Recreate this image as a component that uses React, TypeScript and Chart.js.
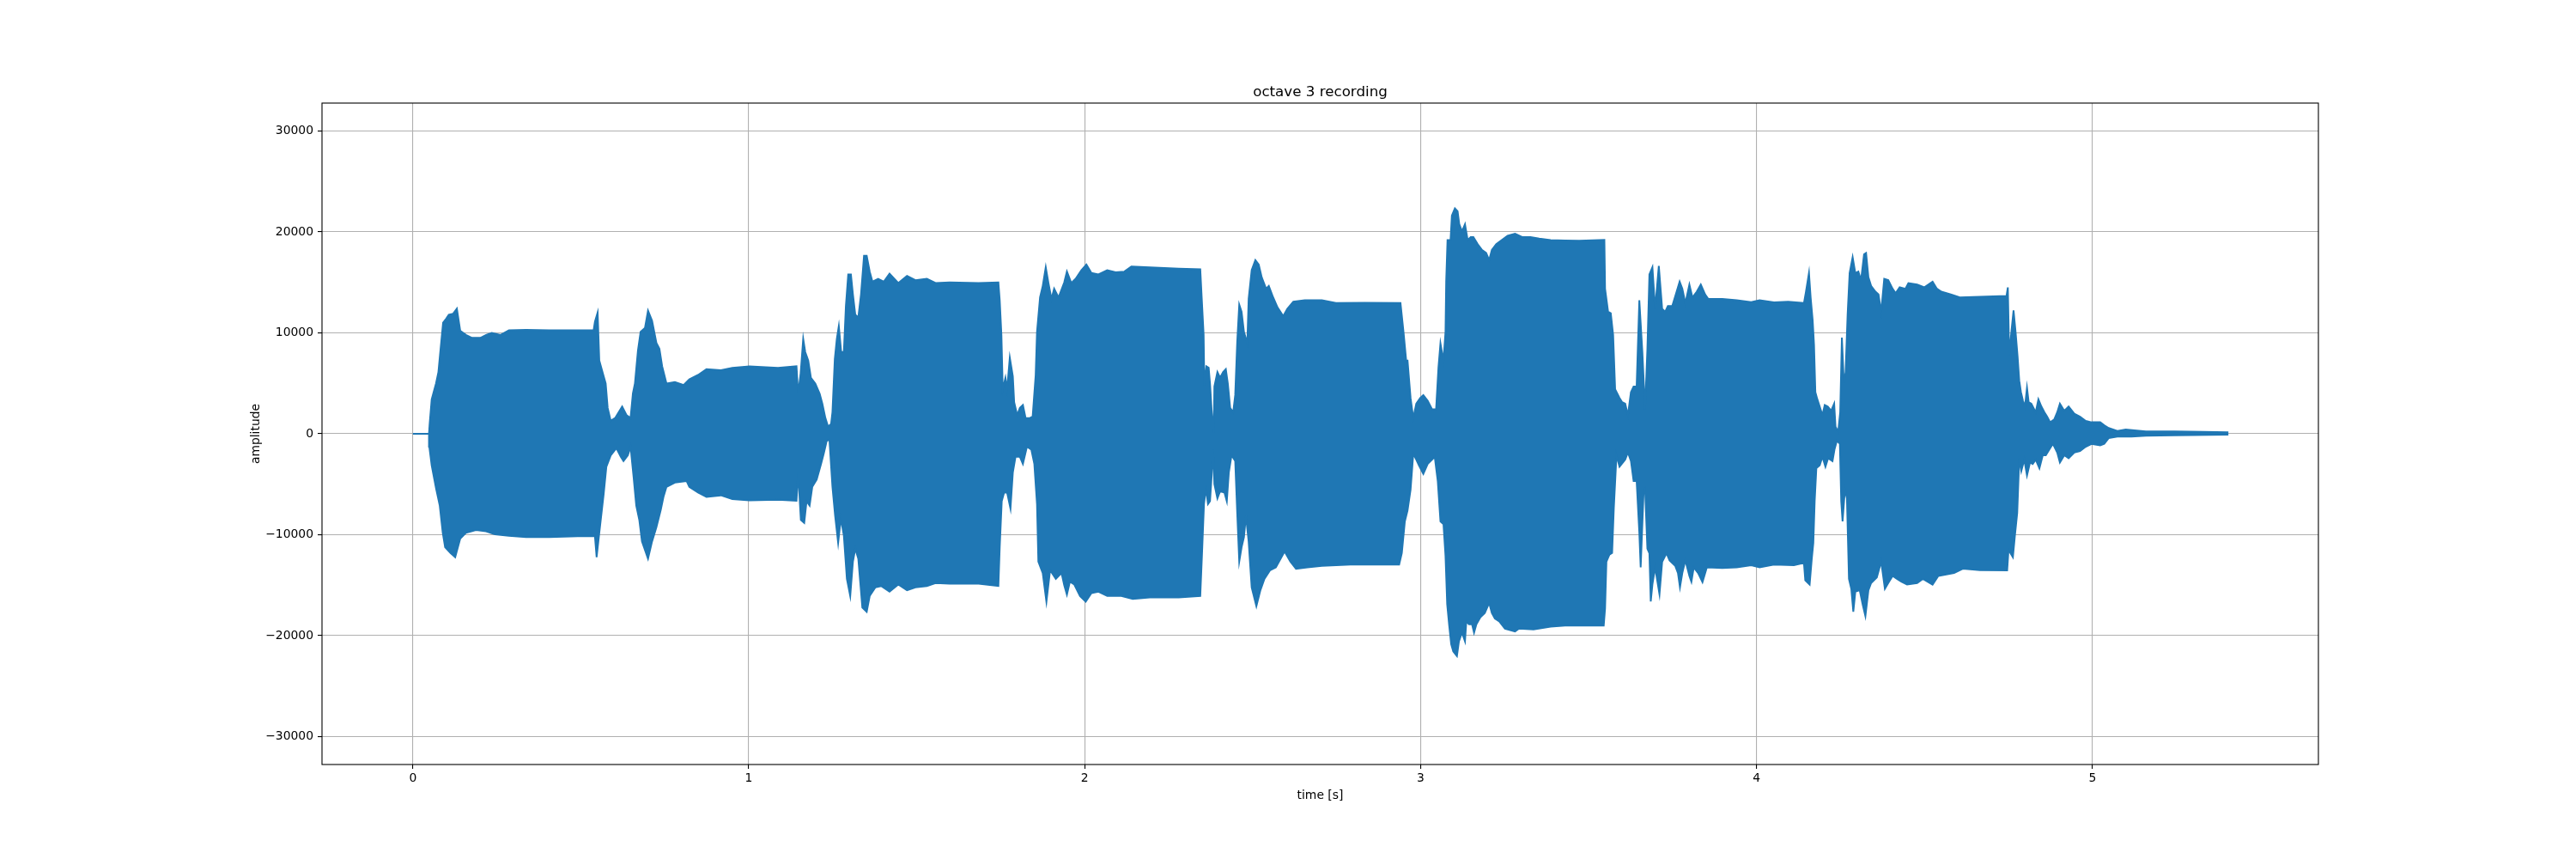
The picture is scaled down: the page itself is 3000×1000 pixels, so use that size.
import React, { useEffect, useRef } from 'react';
import { Chart, registerables } from 'chart.js';

Chart.register(...registerables);

// ---- text ----
const chartTitle = 'octave 3 recording';
const xAxisLabel = 'time [s]';
const yAxisLabel = 'amplitude';

// ---- axes ----
const xTicks = [0, 1, 2, 3, 4, 5];
const yTicks = [-30000, -20000, -10000, 0, 10000, 20000, 30000];
const xMin = -0.2705;
const xMax = 5.6725;
const yMin = -32768;
const yMax = 32767;

// ---- waveform envelope: [time s, amplitude] ----
const upperEnvelope: [number, number][] = [
  [0, 0], [0.048, 0], [0.050, 1000], [0.056, 3400], [0.069, 5000], [0.076, 6100], [0.082, 8250], [0.090, 11000],
  [0.099, 11400], [0.107, 11800], [0.120, 11900], [0.131, 12400], [0.141, 10200], [0.158, 9800], [0.176, 9500],
  [0.201, 9500], [0.218, 9800], [0.235, 10000], [0.261, 9800], [0.286, 10250], [0.337, 10300], [0.406, 10250],
  [0.491, 10250], [0.538, 10250], [0.542, 11100], [0.550, 12000], [0.555, 7250], [0.568, 5700], [0.574, 4980],
  [0.580, 2560], [0.589, 1280], [0.602, 1560], [0.623, 2700], [0.636, 1850], [0.648, 1560], [0.655, 4000],
  [0.661, 4980], [0.670, 8250], [0.678, 10100], [0.691, 10500], [0.700, 12200], [0.712, 11200], [0.725, 9000],
  [0.734, 8430], [0.742, 6700], [0.755, 4980], [0.780, 5120], [0.806, 4840], [0.823, 5400], [0.849, 5830],
  [0.874, 6400], [0.917, 6300], [0.951, 6540], [1.002, 6690], [1.087, 6540], [1.142, 6690], [1.147, 4000],
  [1.154, 5830], [1.162, 9400], [1.168, 8110], [1.177, 7250], [1.185, 5550], [1.198, 4980], [1.211, 3980],
  [1.219, 2990], [1.228, 1560], [1.236, 710], [1.245, 990], [1.249, 2130], [1.256, 7400], [1.262, 9390],
  [1.268, 10670], [1.275, 8110], [1.283, 8110], [1.289, 12660], [1.296, 15790], [1.304, 15790], [1.310, 13800],
  [1.317, 11800], [1.326, 11520], [1.334, 13800], [1.343, 17640], [1.351, 17640], [1.360, 16070], [1.368, 15080],
  [1.385, 15360], [1.402, 15080], [1.419, 15860], [1.445, 14940], [1.471, 15650], [1.496, 15220], [1.530, 15360],
  [1.556, 14940], [1.598, 15000], [1.684, 14940], [1.743, 15000], [1.747, 13230], [1.752, 9810], [1.756, 4410],
  [1.764, 5550], [1.769, 4410], [1.777, 7540], [1.786, 5690], [1.790, 3130], [1.799, 1850], [1.807, 2560],
  [1.816, 2850], [1.824, 1560], [1.837, 1560], [1.845, 1710], [1.854, 5830], [1.858, 10100], [1.867, 13510],
  [1.875, 14650], [1.884, 16500], [1.892, 14940], [1.901, 13370], [1.909, 14370], [1.922, 13510], [1.939, 15000],
  [1.947, 16070], [1.960, 14940], [1.973, 15360], [1.990, 16210], [2.005, 16780], [2.020, 15930], [2.041, 15790],
  [2.067, 16210], [2.092, 16010], [2.118, 16070], [2.139, 16570], [2.194, 16500], [2.280, 16360], [2.344, 16300],
  [2.348, 13650], [2.354, 9810], [2.356, 4840], [2.362, 6690], [2.369, 6540], [2.373, 4980], [2.378, 2280],
  [2.384, 100], [2.386, 4690], [2.395, 6120], [2.403, 5550], [2.412, 6120], [2.420, 6400], [2.426, 4980],
  [2.433, 2560], [2.442, 2130], [2.448, 3840], [2.454, 9100], [2.460, 12800], [2.467, 12090], [2.474, 10100],
  [2.484, 8960], [2.488, 13370], [2.497, 16210], [2.508, 17210], [2.518, 16780], [2.527, 15500], [2.540, 14370],
  [2.548, 14650], [2.561, 13510], [2.574, 12520], [2.591, 11660], [2.603, 12380], [2.621, 13090], [2.655, 13230],
  [2.706, 13230], [2.748, 12950], [2.834, 12980], [2.940, 12950], [2.949, 10100], [2.957, 7250], [2.961, 7250],
  [2.970, 3560], [2.978, 1560], [2.987, 2990], [2.999, 3560], [3.008, 3840], [3.021, 3270], [3.034, 2420],
  [3.046, 2420], [3.053, 6540], [3.059, 8960], [3.068, 7250], [3.074, 10100], [3.076, 15080], [3.080, 19200],
  [3.089, 19200], [3.093, 21620], [3.102, 22330], [3.110, 22050], [3.115, 20770], [3.123, 20060], [3.132, 20770],
  [3.140, 19200], [3.149, 19490], [3.157, 19490], [3.170, 18780], [3.183, 18210], [3.195, 17920], [3.204, 17210],
  [3.212, 18210], [3.225, 18780], [3.242, 19200], [3.259, 19630], [3.281, 19830], [3.302, 19490], [3.327, 19490],
  [3.353, 19350], [3.387, 19200], [3.430, 19150], [3.472, 19120], [3.547, 19200], [3.549, 14370], [3.558, 12090],
  [3.566, 11950], [3.573, 9810], [3.579, 4410], [3.592, 3560], [3.600, 3130], [3.609, 2990], [3.617, 1850],
  [3.626, 4130], [3.634, 4690], [3.643, 4690], [3.651, 13230], [3.660, 8110], [3.668, 2420], [3.675, 8390],
  [3.681, 15790], [3.690, 16500], [3.698, 12380], [3.709, 16640], [3.719, 12380], [3.728, 12090], [3.736, 12660],
  [3.749, 12660], [3.762, 14080], [3.771, 15080], [3.779, 14370], [3.788, 12950], [3.800, 14790], [3.809, 13510],
  [3.822, 14080], [3.834, 14790], [3.847, 13800], [3.856, 13370], [3.898, 13370], [3.941, 13230], [3.984, 13050],
  [4.009, 13230], [4.052, 13030], [4.094, 13090], [4.141, 12950], [4.147, 14080], [4.156, 15930], [4.161, 13510],
  [4.167, 11240], [4.171, 8820], [4.175, 4130], [4.181, 3410], [4.188, 2700], [4.196, 1850], [4.203, 2850],
  [4.212, 2700], [4.222, 2280], [4.231, 2990], [4.235, 710], [4.243, 200], [4.249, 2130], [4.254, 9530],
  [4.260, 4980], [4.265, 6120], [4.271, 11810], [4.277, 15930], [4.286, 17500], [4.294, 15930], [4.303, 16070],
  [4.311, 15220], [4.320, 17780], [4.326, 17920], [4.333, 15500], [4.341, 14650], [4.354, 14080], [4.363, 13800],
  [4.371, 12090], [4.380, 15360], [4.392, 15220], [4.405, 14370], [4.414, 13940], [4.426, 14510], [4.443, 14370],
  [4.452, 14930], [4.478, 14790], [4.499, 14510], [4.524, 15080], [4.537, 14370], [4.550, 14080], [4.580, 13800],
  [4.605, 13510], [4.665, 13580], [4.744, 13650], [4.748, 14500], [4.752, 7820], [4.759, 10240], [4.765, 12230],
  [4.771, 10100], [4.777, 7680], [4.782, 5260], [4.787, 4130], [4.793, 3270], [4.799, 2700], [4.805, 4550],
  [4.810, 3130], [4.818, 2990], [4.831, 2130], [4.839, 3410], [4.848, 2700], [4.857, 2130], [4.865, 1700],
  [4.874, 1140], [4.886, 1420], [4.895, 2130], [4.903, 2990], [4.916, 2280], [4.929, 2700], [4.946, 1990],
  [4.963, 1700], [4.980, 1280], [4.997, 1140], [5.023, 1140], [5.035, 850], [5.048, 570], [5.074, 280],
  [5.099, 430], [5.125, 340], [5.159, 230], [5.244, 230], [5.330, 200], [5.402, 140],
];

const lowerEnvelope: [number, number][] = [
  [0, 0], [0.048, 0], [0.049, -1280], [0.056, -3130], [0.069, -5410], [0.080, -7110], [0.089, -9810], [0.096, -11240],
  [0.112, -11810], [0.126, -12230], [0.141, -10380], [0.158, -9810], [0.188, -9530], [0.218, -9670], [0.244, -9960],
  [0.286, -10100], [0.337, -10240], [0.406, -10240], [0.491, -10160], [0.542, -10160], [0.547, -12230], [0.555, -9810],
  [0.568, -5970], [0.576, -3270], [0.589, -2130], [0.606, -1420], [0.619, -2280], [0.627, -2700], [0.640, -2130],
  [0.648, -1280], [0.657, -4270], [0.665, -7110], [0.674, -8530], [0.682, -10670], [0.700, -12380], [0.712, -10670],
  [0.725, -9250], [0.738, -7540], [0.746, -6260], [0.755, -5260], [0.780, -4840], [0.815, -4690], [0.823, -5260],
  [0.849, -5830], [0.874, -6260], [0.917, -6100], [0.951, -6460], [1.002, -6600], [1.087, -6540], [1.142, -6630],
  [1.147, -3840], [1.155, -8530], [1.165, -8820], [1.172, -6680], [1.181, -7110], [1.189, -5260], [1.202, -4550],
  [1.215, -2990], [1.223, -1990], [1.232, -710], [1.240, -570], [1.249, -5260], [1.257, -8110], [1.266, -10810],
  [1.274, -8390], [1.283, -10100], [1.292, -14370], [1.302, -16070], [1.310, -12660], [1.317, -11380], [1.326, -12380],
  [1.338, -17210], [1.351, -17640], [1.360, -16070], [1.377, -15220], [1.394, -15080], [1.419, -15650], [1.445, -14940],
  [1.471, -15500], [1.496, -15220], [1.530, -15080], [1.556, -14790], [1.598, -14860], [1.684, -14860], [1.743, -15080],
  [1.747, -11240], [1.753, -6680], [1.760, -5830], [1.769, -5830], [1.779, -7400], [1.786, -3840], [1.794, -2280],
  [1.807, -2280], [1.816, -2990], [1.828, -1280], [1.841, -1560], [1.850, -2990], [1.858, -6970], [1.862, -12660],
  [1.875, -13800], [1.886, -16640], [1.897, -13510], [1.914, -14370], [1.931, -13800], [1.939, -15000], [1.947, -15930],
  [1.956, -14650], [1.969, -14940], [1.986, -16070], [2.003, -16640], [2.020, -15790], [2.041, -15650], [2.067, -16070],
  [2.109, -16070], [2.143, -16360], [2.194, -16210], [2.280, -16210], [2.344, -16070], [2.350, -11240], [2.355, -6970],
  [2.361, -5410], [2.367, -6970], [2.373, -6680], [2.378, -4130], [2.382, -1560], [2.386, -4980], [2.395, -6400],
  [2.403, -5690], [2.416, -5830], [2.423, -6680], [2.429, -3840], [2.437, -2130], [2.448, -2700], [2.454, -7820],
  [2.460, -12660], [2.467, -11240], [2.474, -10240], [2.480, -8110], [2.488, -10670], [2.497, -15220], [2.511, -17070],
  [2.523, -15500], [2.535, -14370], [2.552, -13510], [2.569, -13230], [2.595, -11660], [2.612, -12660], [2.629, -13370],
  [2.663, -13230], [2.706, -13090], [2.791, -12950], [2.876, -12950], [2.936, -12950], [2.944, -11810], [2.953, -8680],
  [2.961, -7600], [2.970, -5550], [2.978, -1990], [2.987, -2560], [2.995, -3130], [3.008, -3980], [3.021, -2990],
  [3.034, -2560], [3.042, -2280], [3.051, -4690], [3.059, -8680], [3.068, -8960], [3.074, -12100], [3.079, -16900],
  [3.085, -19000], [3.091, -20850], [3.097, -21550], [3.108, -22030], [3.114, -20560], [3.123, -19700], [3.132, -20560],
  [3.136, -18600], [3.144, -18870], [3.153, -18870], [3.159, -19700], [3.166, -18870], [3.178, -18170], [3.191, -17750],
  [3.204, -16760], [3.212, -17750], [3.221, -18310], [3.234, -18590], [3.251, -19300], [3.281, -19580], [3.293, -19300],
  [3.336, -19380], [3.387, -19100], [3.430, -19010], [3.545, -19010], [3.549, -17320], [3.553, -12680], [3.562, -11970],
  [3.570, -11800], [3.575, -7400], [3.583, -2130], [3.592, -3270], [3.609, -2560], [3.617, -1850], [3.626, -2700],
  [3.634, -4690], [3.643, -4690], [3.651, -9810], [3.655, -13230], [3.664, -5550], [3.668, -5410], [3.675, -11380],
  [3.681, -11830], [3.685, -16620], [3.690, -14930], [3.698, -13240], [3.711, -15900], [3.719, -12680], [3.732, -11830],
  [3.741, -12540], [3.758, -13100], [3.766, -13800], [3.772, -15200], [3.779, -13800], [3.788, -12540], [3.800, -14080],
  [3.806, -14650], [3.813, -13240], [3.826, -13800], [3.839, -14700], [3.852, -13240], [3.898, -13300], [3.941, -13240],
  [3.984, -13020], [4.009, -13230], [4.052, -12950], [4.111, -13030], [4.141, -12800], [4.145, -14510], [4.158, -14940],
  [4.164, -12520], [4.169, -10810], [4.173, -6680], [4.178, -3410], [4.188, -3130], [4.196, -2280], [4.205, -3270],
  [4.213, -2420], [4.226, -2700], [4.232, -1560], [4.239, -710], [4.248, -990], [4.252, -6680], [4.256, -8680],
  [4.263, -5550], [4.269, -6400], [4.275, -14370], [4.282, -15360], [4.288, -17640], [4.294, -15650], [4.307, -15500],
  [4.316, -16930], [4.324, -18060], [4.333, -15500], [4.341, -14790], [4.358, -14230], [4.371, -12660], [4.382, -15360],
  [4.392, -14790], [4.405, -14080], [4.418, -14370], [4.431, -14650], [4.448, -14940], [4.478, -14790], [4.495, -14370],
  [4.524, -14940], [4.541, -14080], [4.588, -13800], [4.614, -13370], [4.665, -13510], [4.746, -13540], [4.750, -11520],
  [4.763, -12230], [4.769, -10100], [4.776, -7820], [4.782, -2420], [4.788, -3700], [4.797, -2560], [4.805, -4130],
  [4.814, -2850], [4.822, -2990], [4.831, -2560], [4.842, -3410], [4.852, -2130], [4.861, -2130], [4.874, -1420],
  [4.882, -990], [4.895, -1850], [4.903, -2850], [4.916, -2130], [4.929, -2420], [4.946, -1850], [4.963, -1700],
  [4.980, -1280], [4.997, -1000], [5.023, -1140], [5.035, -990], [5.048, -430], [5.074, -280], [5.116, -280],
  [5.159, -200], [5.244, -140], [5.402, -85],
];

const waveColor = '#1f77b4';
const FONT = "'DejaVu Sans', 'Liberation Sans', sans-serif";

const fmt = (v: number) => (v < 0 ? '\u2212' + Math.abs(v) : String(v));

const textPlugin = {
  id: 'mplText',
  afterDraw(chart: any) {
    const { ctx, chartArea } = chart;
    const { left, right, top, bottom } = chartArea;
    ctx.save();
    // spines
    ctx.strokeStyle = '#000';
    ctx.lineWidth = 1.1;
    ctx.strokeRect(left, top, right - left, bottom - top);
    ctx.fillStyle = '#000';
    // title
    ctx.font = `16.7px ${FONT}`;
    ctx.textAlign = 'center';
    ctx.textBaseline = 'alphabetic';
    ctx.fillText(chartTitle, (left + right) / 2, top - 8.3);
    // x label
    ctx.font = `13.9px ${FONT}`;
    ctx.fillText(xAxisLabel, (left + right) / 2, 929.5);
    // y label
    ctx.translate(302, (top + bottom) / 2);
    ctx.rotate(-Math.PI / 2);
    ctx.fillText(yAxisLabel, 0, 0);
    ctx.restore();
  },
};

export default function App() {
  const ref = useRef<HTMLCanvasElement | null>(null);

  useEffect(() => {
    document.body.style.margin = '0';
    const canvas = ref.current;
    if (!canvas) return;

    const shape = [
      ...upperEnvelope.map(([x, y]) => ({ x, y })),
      ...lowerEnvelope.slice().reverse().map(([x, y]) => ({ x, y })),
    ];

    const gridCommon = {
      color: '#b0b0b0',
      lineWidth: 1.1,
      drawTicks: true,
      tickLength: 5,
      tickColor: '#000',
      tickWidth: 1.1,
    };

    const chart = new Chart(canvas, {
      type: 'line',
      data: {
        datasets: [
          {
            data: shape,
            borderColor: waveColor,
            backgroundColor: waveColor,
            borderWidth: 2,
            pointRadius: 0,
            tension: 0,
            fill: 'shape',
          } as any,
        ],
      },
      options: {
        responsive: false,
        animation: false,
        devicePixelRatio: 1,
        parsing: true,
        layout: { padding: { top: 120, right: 300, left: 0, bottom: 0 } },
        plugins: {
          legend: { display: false },
          tooltip: { enabled: false },
          title: { display: false },
        },
        scales: {
          x: {
            type: 'linear',
            min: xMin,
            max: xMax,
            afterBuildTicks: (s: any) => {
              s.ticks = xTicks.map((v) => ({ value: v }));
            },
            afterFit: (s: any) => {
              s.height = 110;
            },
            grid: gridCommon,
            border: { display: false },
            ticks: {
              color: '#000',
              font: { family: FONT, size: 13.9 },
              padding: 3,
              maxRotation: 0,
              autoSkip: false,
              includeBounds: false,
              callback: (v: any) => fmt(Number(v)),
            },
          },
          y: {
            type: 'linear',
            min: yMin,
            max: yMax,
            afterBuildTicks: (s: any) => {
              s.ticks = yTicks.map((v) => ({ value: v }));
            },
            afterFit: (s: any) => {
              s.width = 375;
            },
            grid: gridCommon,
            border: { display: false },
            ticks: {
              color: '#000',
              font: { family: FONT, size: 13.9 },
              padding: 5,
              autoSkip: false,
              includeBounds: false,
              callback: (v: any) => fmt(Number(v)),
            },
          },
        },
      } as any,
      plugins: [textPlugin],
    });

    return () => chart.destroy();
  }, []);

  return (
    <div style={{ width: 3000, height: 1000 }}>
      <canvas ref={ref} width={3000} height={1000} style={{ display: 'block' }} />
    </div>
  );
}
